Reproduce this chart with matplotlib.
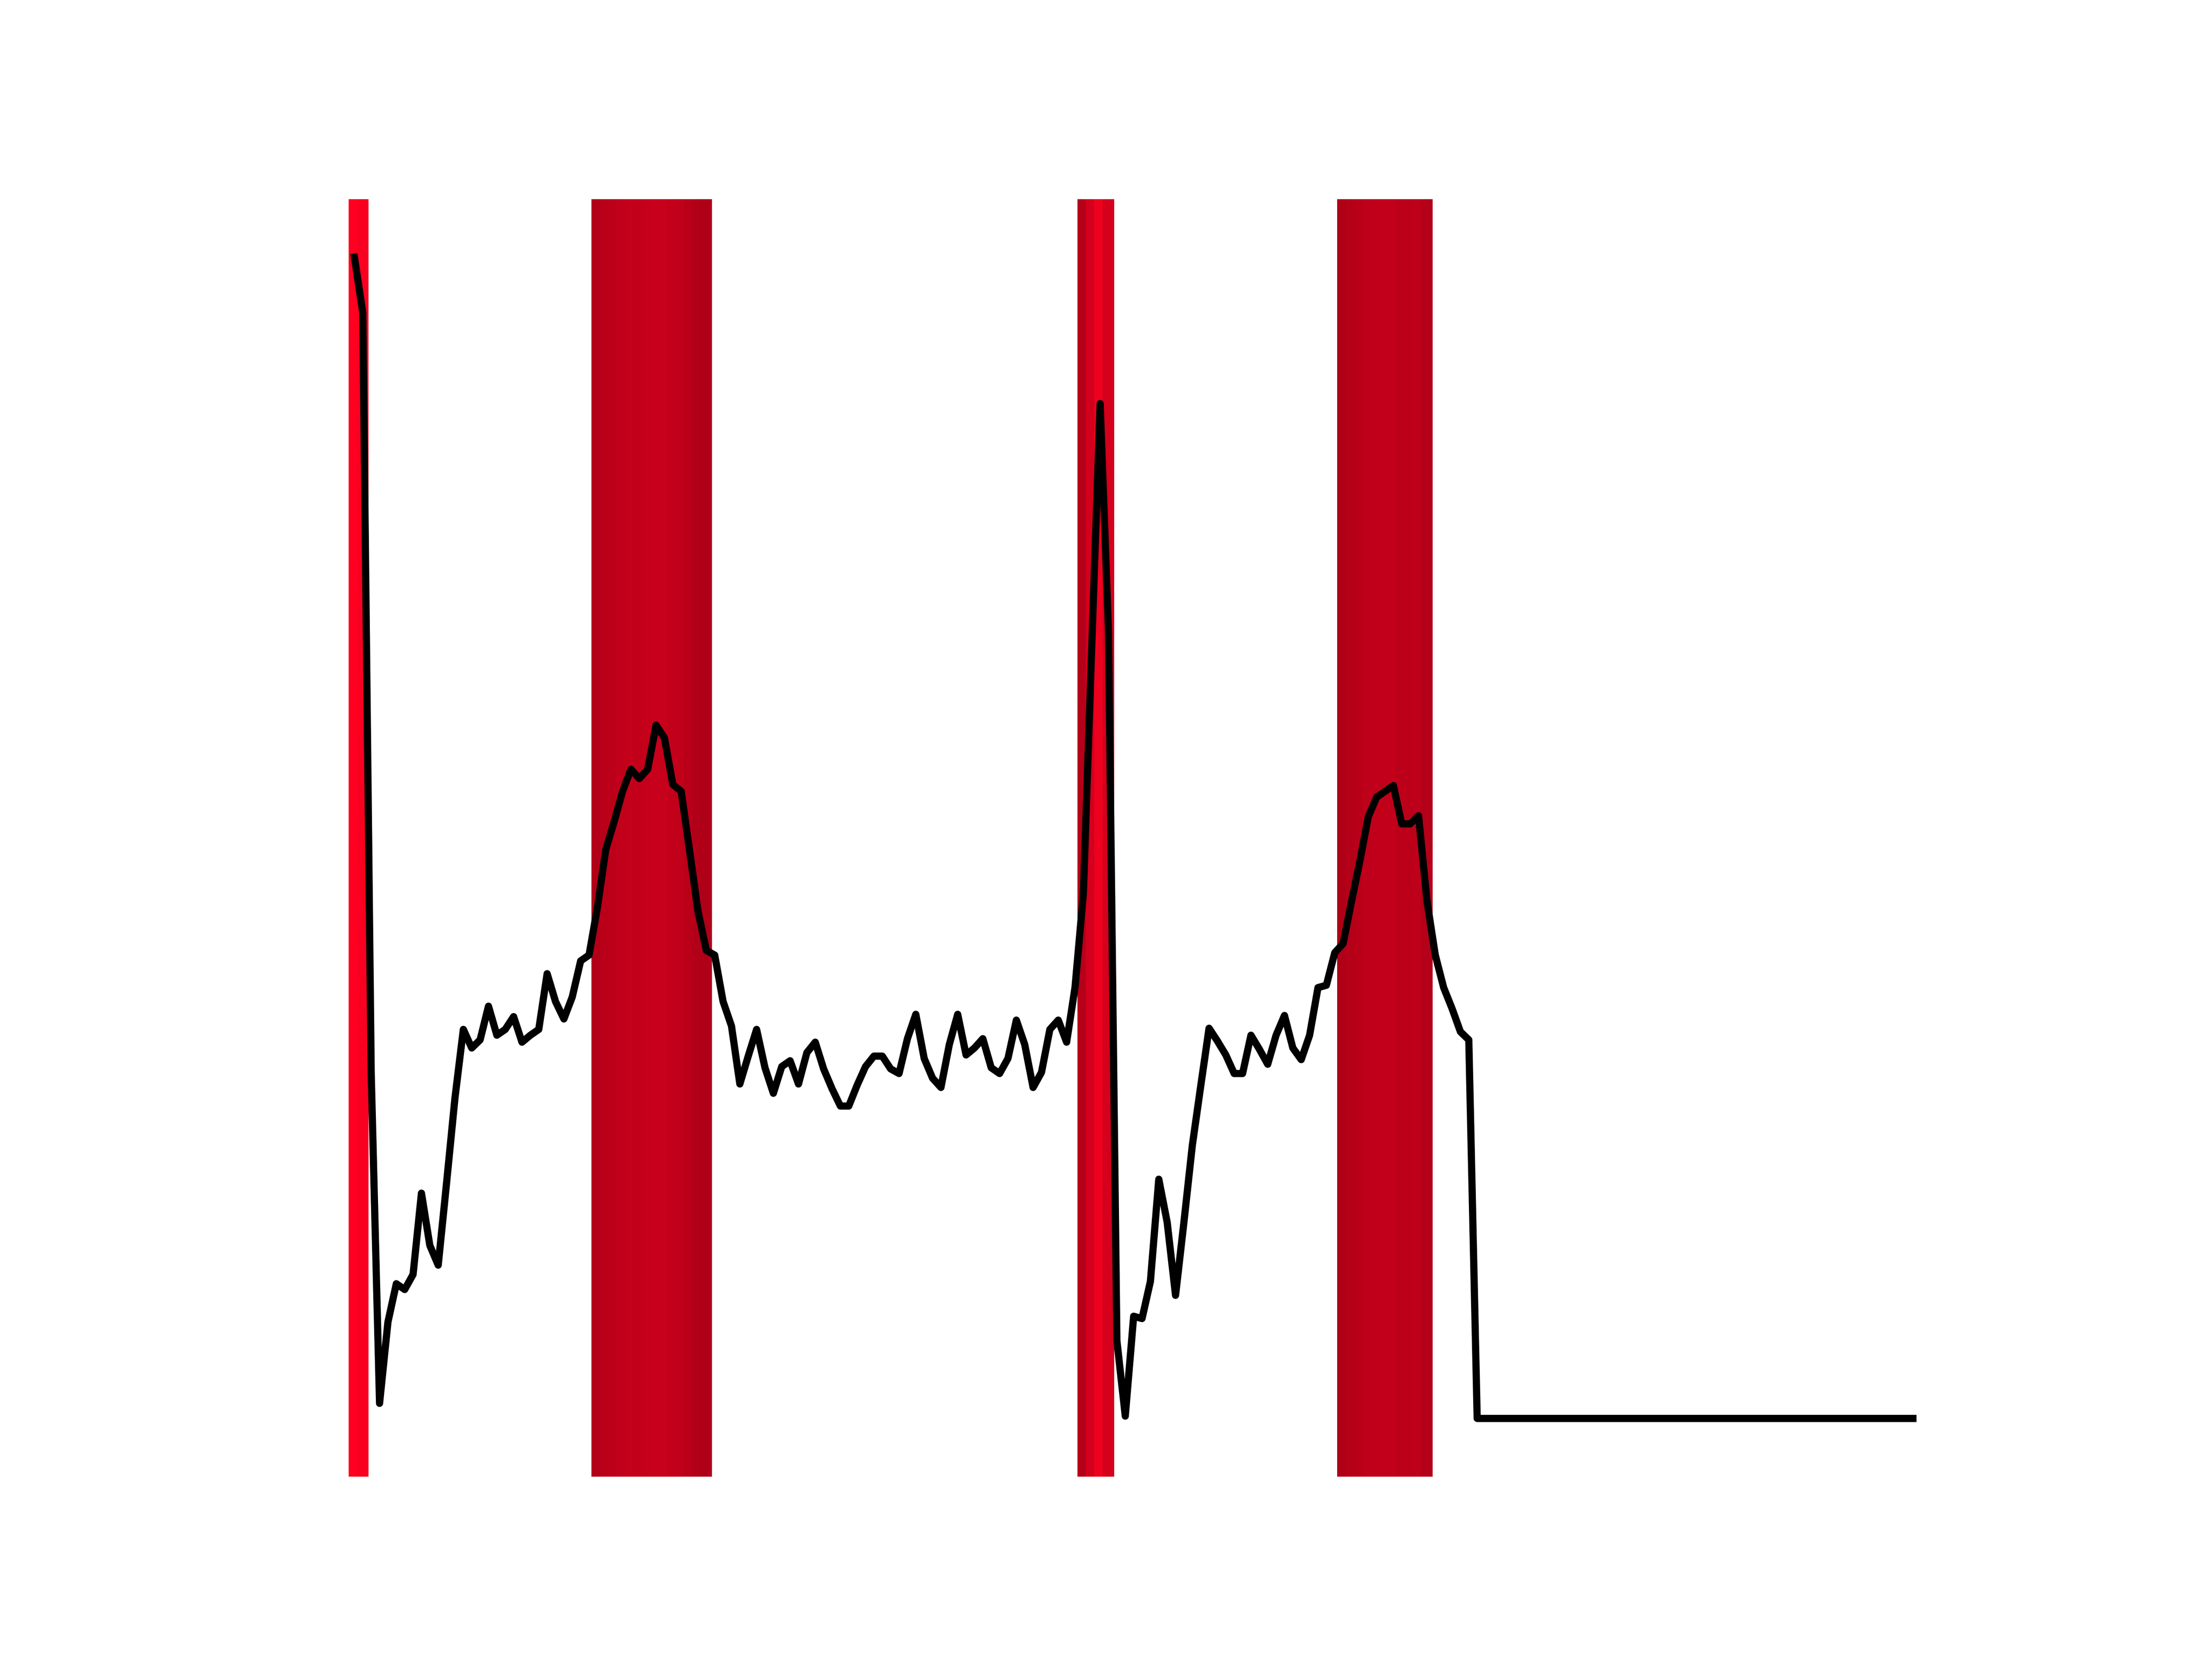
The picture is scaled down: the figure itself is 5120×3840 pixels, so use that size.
import matplotlib
matplotlib.use("Agg")
import matplotlib.pyplot as plt
from matplotlib.colors import LinearSegmentedColormap, Normalize

# signal values, one per sample
signal = [
    100.0, 95.2, 29.8, 1.3, 8.3, 11.6, 11.1, 12.4, 19.4, 14.9,
    13.2, 20.3, 27.6, 33.5, 31.9, 32.6, 35.5, 33.0, 33.5, 34.6,
    32.4, 33.0, 33.5, 38.3, 35.9, 34.4, 36.3, 39.4, 39.9, 44.0,
    49.0, 51.4, 54.0, 55.9, 55.1, 55.9, 59.7, 58.6, 54.6, 54.0,
    48.9, 43.7, 40.3, 39.9, 35.9, 33.8, 28.8, 31.2, 33.5, 30.2,
    28.0, 30.3, 30.8, 28.8, 31.5, 32.4, 30.1, 28.4, 26.9, 26.9,
    28.7, 30.3, 31.2, 31.2, 30.1, 29.7, 32.7, 34.8, 31.0, 29.3,
    28.5, 32.2, 34.8, 31.3, 31.9, 32.7, 30.2, 29.7, 31.0, 34.3,
    32.2, 28.5, 29.8, 33.5, 34.3, 32.4, 37.1, 45.2, 66.5, 87.4,
    67.7, 6.7, 0.2, 8.8, 8.6, 11.8, 20.6, 16.9, 10.6, 16.9,
    23.5, 28.6, 33.6, 32.5, 31.3, 29.7, 29.7, 33.0, 31.8, 30.5,
    33.0, 34.7, 31.9, 30.9, 33.0, 37.1, 37.3, 40.1, 40.9, 44.5,
    48.0, 51.8, 53.5, 54.0, 54.5, 51.2, 51.2, 51.9, 44.6, 39.9,
    37.1, 35.3, 33.3, 32.6,
]
# zero padding at the end of the sequence
padding = [0.0] * 53
values = signal + padding
x = list(range(len(values)))

# highlighted sample ranges (first, last index, inclusive)
highlight_ranges = [(0, 1), (29, 42), (87, 90), (118, 128)]

cmap = LinearSegmentedColormap.from_list("hl", ["#780012", "#ff0021"])
norm = Normalize(vmin=0, vmax=100)

fig, ax = plt.subplots(figsize=(6.4, 4.8), dpi=800)

ax.plot(x, values, color="black", linewidth=1.5, zorder=3)

# keep the default 5% margins of the line itself
span = x[-1] - x[0]
xlim = (x[0] - 0.05 * span, x[-1] + 0.05 * span)

for start, end in highlight_ranges:
    for i in range(start, end + 1):
        ax.axvspan(x[i] - 0.7, x[i] + 0.7, color=cmap(norm(values[i])),
                   linewidth=0, zorder=1)

ax.set_xlim(xlim)
ax.axis("off")

fig.savefig("out.png", dpi=800)
